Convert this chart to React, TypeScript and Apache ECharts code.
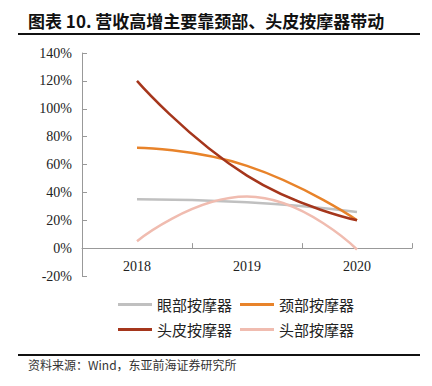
import React, { useEffect, useRef } from "react";
import * as echarts from "echarts";

const title = "图表 10. 营收高增主要靠颈部、头皮按摩器带动";
const source = "资料来源：Wind，东亚前海证券研究所";
const years = ["2018", "2019", "2020"];
const seriesNames = ["眼部按摩器", "颈部按摩器", "头皮按摩器", "头部按摩器"];
const eyeValues = [35, 33, 26];
const neckValues = [72, 59, 20];
const scalpValues = [120, 52, 20];
const headValues = [5, 37, -1];
const colors = ["#C0C0C0", "#E8832A", "#A5361C", "#F0BCB0"];
const yMin = -20;
const yMax = 140;
const yInterval = 20;

export default function App() {
  const ref = useRef<HTMLDivElement>(null);
  useEffect(() => {
    if (!ref.current) return;
    const chart = echarts.init(ref.current, undefined, { renderer: "svg" });
    const serif = "'Times New Roman', 'Liberation Serif', serif";
    const cjk = "'Noto Sans CJK SC', sans-serif";
    const allValues = [eyeValues, neckValues, scalpValues, headValues];
    const gridTop = 53;
    const gridBottomY = 276;
    const zeroOffset = ((gridBottomY - gridTop) * (0 - yMin)) / (yMax - yMin);
    chart.setOption({
      animation: false,
      backgroundColor: "#ffffff",
      color: colors,
      grid: { left: 82, right: 20, top: gridTop, bottom: 386 - gridBottomY, containLabel: false },
      xAxis: {
        type: "category",
        data: years,
        boundaryGap: true,
        offset: -zeroOffset,
        axisLine: { onZero: false, lineStyle: { color: "#999999", width: 1 } },
        axisTick: { show: true, inside: true, length: 5, lineStyle: { color: "#999999" } },
        axisLabel: { fontFamily: serif, fontSize: 14, color: "#222222", margin: 11 },
        splitLine: { show: false },
      },
      yAxis: {
        type: "value",
        min: yMin,
        max: yMax,
        interval: yInterval,
        axisLine: { show: true, lineStyle: { color: "#999999", width: 1 } },
        axisTick: { show: true, inside: true, length: 5, lineStyle: { color: "#999999" } },
        axisLabel: {
          fontFamily: serif,
          fontSize: 14,
          color: "#222222",
          margin: 10,
          formatter: (v: number) => `${v}%`,
        },
        splitLine: { show: false },
      },
      legend: [
        {
          data: seriesNames.slice(0, 2),
          left: 113,
          top: 292,
          itemWidth: 34,
          itemHeight: 3,
          itemGap: 8,
          icon: "rect",
          textStyle: { fontFamily: cjk, fontSize: 15, color: "#222222", padding: [0, 0, 0, 0] },
        },
        {
          data: seriesNames.slice(2, 4),
          left: 113,
          top: 317,
          itemWidth: 34,
          itemHeight: 3,
          itemGap: 8,
          icon: "rect",
          textStyle: { fontFamily: cjk, fontSize: 15, color: "#222222", padding: [0, 0, 0, 0] },
        },
      ],
      series: seriesNames.map((name, i) => ({
        name,
        type: "line",
        data: allValues[i],
        smooth: true,
        showSymbol: false,
        symbol: "none",
        lineStyle: { width: 2.5, color: colors[i] },
        itemStyle: { color: colors[i] },
        z: i === 2 ? 5 : 3,
      })),
      graphic: [
        {
          type: "text",
          left: 28,
          top: 12,
          style: {
            text: title,
            fontFamily: cjk,
            fontSize: 17,
            fontWeight: "bold",
            fill: "#111111",
          },
        },
        {
          type: "line",
          shape: { x1: 18, y1: 34, x2: 420, y2: 34 },
          style: { stroke: "#111111", lineWidth: 2 },
        },
        {
          type: "line",
          shape: { x1: 18, y1: 355, x2: 420, y2: 355 },
          style: { stroke: "#111111", lineWidth: 2 },
        },
        {
          type: "text",
          left: 28,
          top: 358,
          style: {
            text: source,
            fontFamily: cjk,
            fontSize: 12,
            fill: "#333333",
          },
        },
      ],
    });
    return () => chart.dispose();
  }, []);
  return (
    <div
      ref={ref}
      style={{ position: "fixed", left: 0, top: 0, width: 432, height: 386 }}
    />
  );
}
